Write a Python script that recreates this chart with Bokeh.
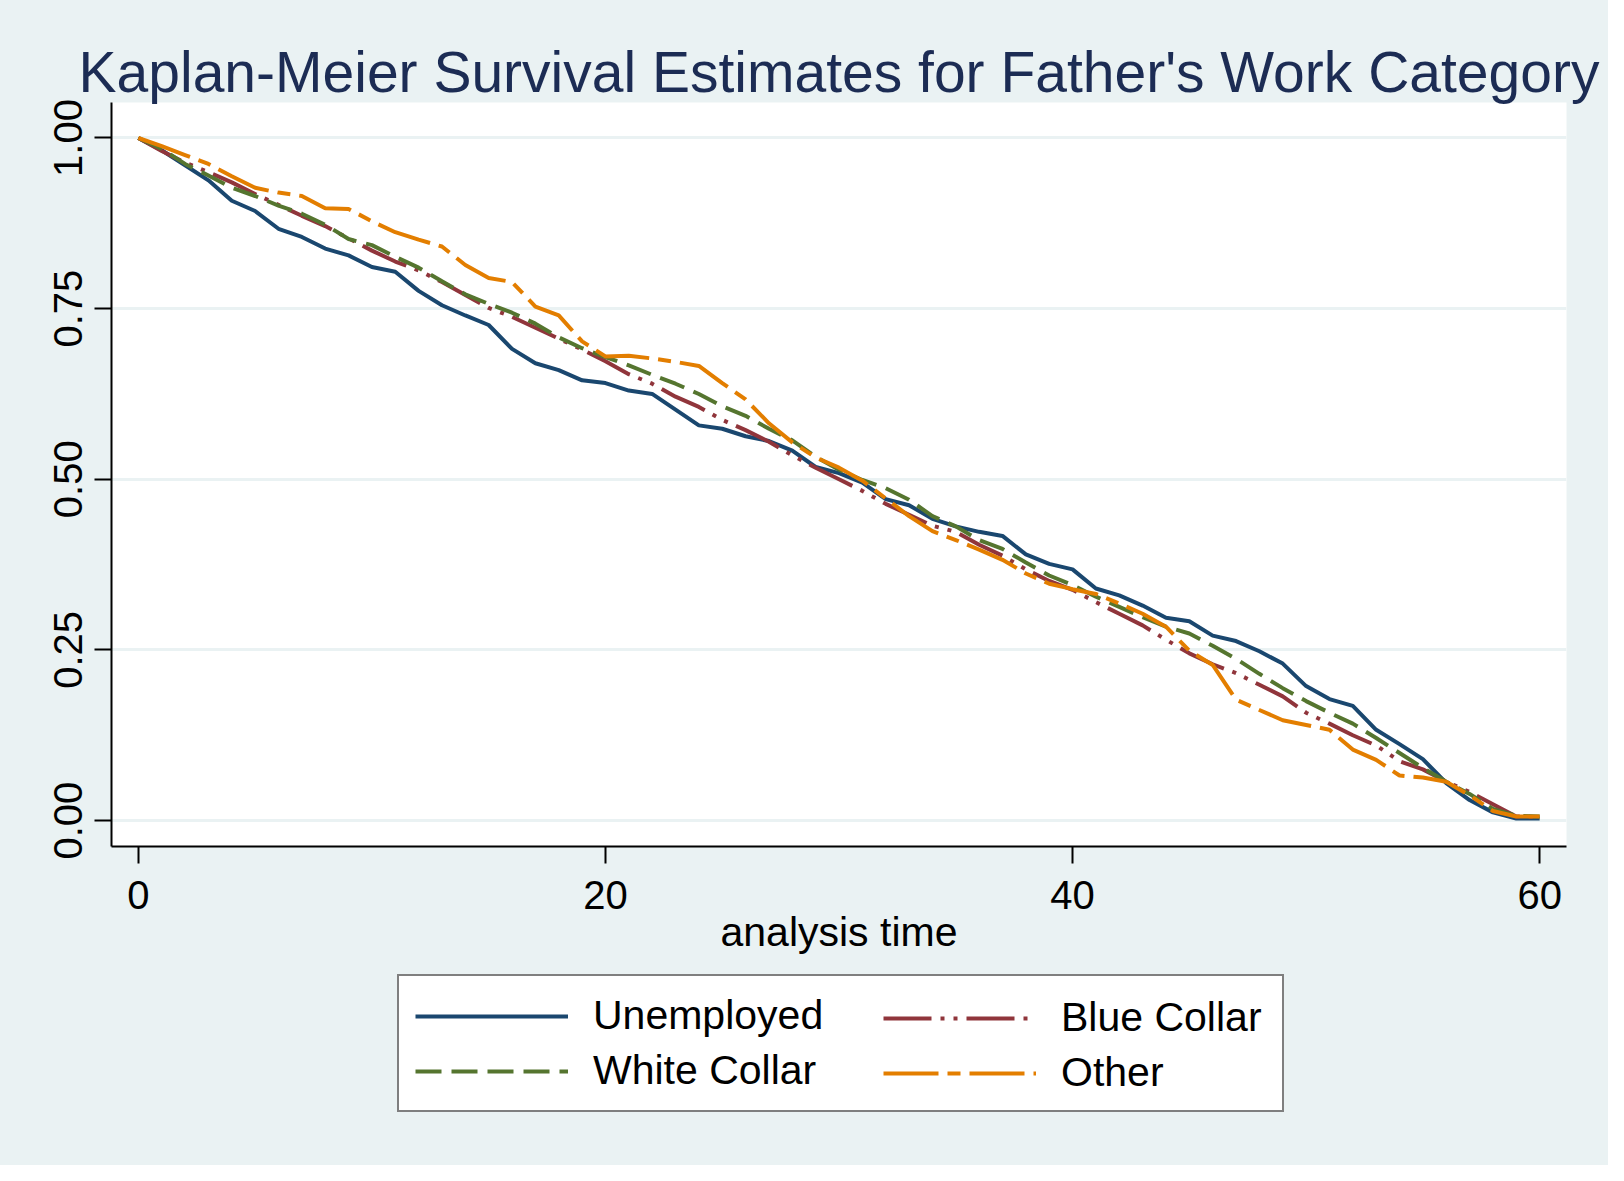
from bokeh.plotting import figure
from bokeh.layouts import column
from bokeh.models import Range1d, FixedTicker, Legend, LegendItem, NumeralTickFormatter
from bokeh.embed import file_html
from bokeh.resources import INLINE

# ---------------- data ----------------
time = list(range(61))

unemployed = [
    1.000, 0.982, 0.960, 0.938, 0.908, 0.893, 0.867, 0.855, 0.838, 0.828,
    0.811, 0.804, 0.776, 0.755, 0.740, 0.726, 0.691, 0.670, 0.660, 0.645,
    0.641, 0.630, 0.625, 0.602, 0.579, 0.574, 0.563, 0.556, 0.542, 0.518,
    0.509, 0.495, 0.471, 0.462, 0.442, 0.431, 0.423, 0.417, 0.390, 0.376,
    0.368, 0.340, 0.330, 0.315, 0.297, 0.292, 0.271, 0.263, 0.248, 0.230,
    0.197, 0.178, 0.168, 0.133, 0.112, 0.090, 0.055, 0.030, 0.012, 0.003, 0.003,
]

blue_collar = [
    1.000, 0.981, 0.964, 0.950, 0.935, 0.918, 0.902, 0.886, 0.871, 0.853,
    0.835, 0.819, 0.806, 0.789, 0.770, 0.751, 0.738, 0.722, 0.706, 0.690,
    0.673, 0.654, 0.640, 0.621, 0.606, 0.587, 0.572, 0.555, 0.535, 0.517,
    0.500, 0.483, 0.464, 0.448, 0.432, 0.423, 0.404, 0.388, 0.368, 0.351,
    0.338, 0.320, 0.303, 0.286, 0.265, 0.245, 0.229, 0.216, 0.199, 0.182,
    0.158, 0.142, 0.125, 0.110, 0.087, 0.075, 0.057, 0.042, 0.024, 0.006, 0.005,
]

white_collar = [
    1.000, 0.984, 0.962, 0.945, 0.927, 0.915, 0.901, 0.889, 0.873, 0.852,
    0.843, 0.826, 0.810, 0.790, 0.771, 0.757, 0.744, 0.728, 0.708, 0.692,
    0.679, 0.667, 0.653, 0.640, 0.625, 0.607, 0.593, 0.574, 0.557, 0.533,
    0.514, 0.499, 0.487, 0.470, 0.446, 0.431, 0.411, 0.398, 0.378, 0.359,
    0.345, 0.328, 0.313, 0.298, 0.284, 0.274, 0.256, 0.237, 0.215, 0.194,
    0.175, 0.158, 0.142, 0.121, 0.099, 0.077, 0.057, 0.039, 0.017, 0.007, 0.006,
]

other = [
    1.000, 0.988, 0.975, 0.962, 0.944, 0.927, 0.920, 0.915, 0.897, 0.896,
    0.878, 0.862, 0.851, 0.841, 0.814, 0.795, 0.789, 0.753, 0.740, 0.702,
    0.680, 0.681, 0.677, 0.672, 0.666, 0.641, 0.617, 0.582, 0.554, 0.532,
    0.517, 0.498, 0.472, 0.446, 0.424, 0.411, 0.397, 0.382, 0.362, 0.347,
    0.339, 0.332, 0.318, 0.303, 0.284, 0.249, 0.228, 0.177, 0.162, 0.147,
    0.140, 0.133, 0.104, 0.089, 0.066, 0.063, 0.057, 0.037, 0.014, 0.006, 0.006,
]

series_names = ["Unemployed", "Blue Collar", "White Collar", "Other"]
x_ticks = [0, 20, 40, 60]
y_ticks = [0.0, 0.25, 0.5, 0.75, 1.0]
y_tick_labels = ["0.00", "0.25", "0.50", "0.75", "1.00"]

# ---------------- style ----------------
FONT = "Liberation Sans"
BG = "#eaf2f3"
COLORS = ["#1a476f", "#90353b", "#55752f", "#e37e00"]
DASHES = ["solid", "48 9 4 9 4 9", "26 10", "55 9 13 9"]
LW = 4

W = 1608
H_MAIN = 970
H_LEG = 1165 - H_MAIN
B_LEFT = 111
B_RIGHT = 42

fig = figure(
    width=W, height=H_MAIN,
    output_backend="svg", toolbar_location=None,
    x_range=Range1d(-1.15, 61.15), y_range=Range1d(-0.038, 1.052),
    min_border_left=B_LEFT, min_border_right=B_RIGHT,
    min_border_top=102, min_border_bottom=H_MAIN - 846,
    title="Kaplan-Meier Survival Estimates for Father's Work Category",
)
fig.border_fill_color = BG
fig.background_fill_color = "white"
fig.outline_line_color = None

fig.title.text_font = FONT
fig.title.text_font_size = "57px"
fig.title.text_font_style = "normal"
fig.title.text_color = "#1c2c54"
fig.title.align = "center"
fig.title.standoff = -3

series = [unemployed, blue_collar, white_collar, other]
for vals, col, dash in zip(series, COLORS, DASHES):
    fig.line(time, vals, line_color=col, line_width=LW, line_dash=dash)

# axes
fig.xaxis.ticker = FixedTicker(ticks=x_ticks)
fig.yaxis.ticker = FixedTicker(ticks=y_ticks)
fig.yaxis.formatter = NumeralTickFormatter(format="0.00")
fig.yaxis.major_label_overrides = {t: s for t, s in zip(y_ticks, y_tick_labels)}
fig.yaxis.major_label_orientation = "vertical"

for ax in (fig.xaxis, fig.yaxis):
    ax.axis_line_color = "black"
    ax.axis_line_width = 2
    ax.major_tick_line_color = "black"
    ax.major_tick_line_width = 2
    ax.major_tick_out = 17
    ax.major_tick_in = 0
    ax.minor_tick_out = 0
    ax.minor_tick_in = 0
    ax.major_label_text_font = FONT
    ax.major_label_text_font_size = "40px"
    ax.major_label_text_color = "black"

fig.xaxis.major_label_standoff = 17
fig.yaxis.major_label_standoff = 12
fig.xaxis.axis_label = "analysis time"
fig.xaxis.axis_label_text_font = FONT
fig.xaxis.axis_label_text_font_size = "41px"
fig.xaxis.axis_label_text_font_style = "normal"
fig.xaxis.axis_label_text_color = "black"
fig.xaxis.axis_label_standoff = -3

fig.xgrid.visible = False
fig.ygrid.grid_line_color = BG
fig.ygrid.grid_line_width = 3

# ---------------- legend strip ----------------
# same series, viewed through a range that keeps them out of sight:
# they only serve as the legend keys
leg = figure(
    width=W, height=H_LEG,
    output_backend="svg", toolbar_location=None,
    x_range=Range1d(200, 201), y_range=Range1d(0, 1),
    min_border_left=B_LEFT, min_border_right=B_RIGHT,
    min_border_top=0, min_border_bottom=0,
)
leg.axis.visible = False
leg.grid.visible = False
leg.outline_line_color = None
leg.border_fill_color = BG
leg.background_fill_color = BG

keys = [leg.line(time, vals, line_color=col, line_width=LW, line_dash=dash)
        for vals, col, dash in zip(series, COLORS, DASHES)]


def style_legend(lg):
    lg.label_text_font = FONT
    lg.label_text_font_size = "41px"
    lg.label_text_color = "black"
    lg.glyph_width = 153
    lg.glyph_height = 20
    lg.label_standoff = 25
    lg.spacing = 8
    lg.padding = 16
    lg.margin = 0
    lg.orientation = "vertical"


legend_bottom = H_LEG - (1112 - H_MAIN)

legA = Legend(
    items=[LegendItem(label=series_names[0], renderers=[keys[0]]),
           LegendItem(label=series_names[2], renderers=[keys[2]])],
    location=(397 - B_LEFT, legend_bottom),
)
style_legend(legA)
legA.label_width = 673
legA.border_line_color = "black"
legA.border_line_width = 2
legA.background_fill_color = "white"
legA.background_fill_alpha = 1.0

legB = Legend(
    items=[LegendItem(label=series_names[1], renderers=[keys[1]]),
           LegendItem(label=series_names[3], renderers=[keys[3]])],
    location=(867 - B_LEFT, legend_bottom),
)
style_legend(legB)
legB.border_line_alpha = 0
legB.background_fill_alpha = 0

leg.add_layout(legA)
leg.add_layout(legB)

p = column(fig, leg, spacing=0, styles={"background-color": BG})

open("out.html", "w").write(file_html(p, INLINE))
